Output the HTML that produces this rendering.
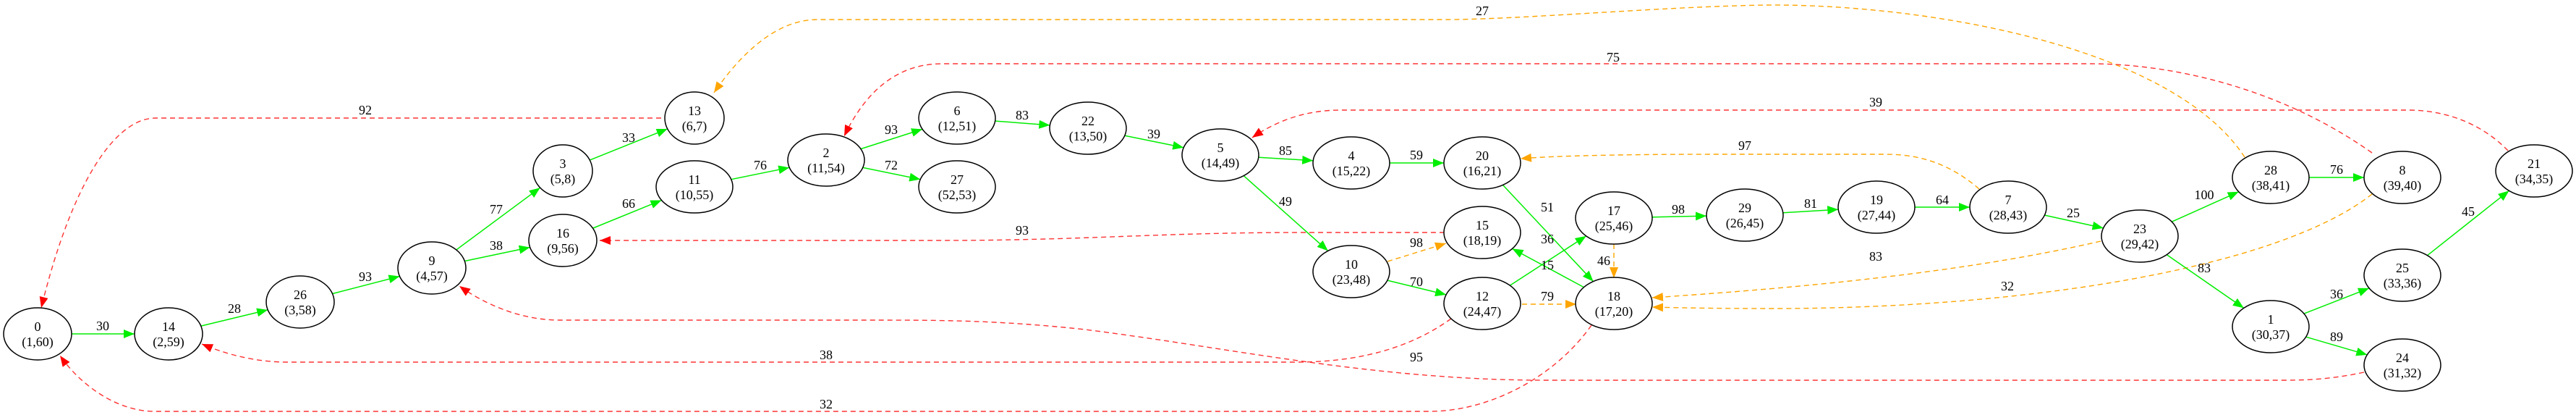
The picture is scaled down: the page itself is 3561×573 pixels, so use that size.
<!DOCTYPE html>
<html><head><meta charset="utf-8"><style>
html,body{margin:0;padding:0;background:#fff;}
svg{display:block;}
text{font-family:"Liberation Serif",serif;font-size:18px;fill:#000;}
</style></head><body>
<svg id="s" width="3561" height="573" viewBox="0 0 3561 573" xmlns="http://www.w3.org/2000/svg">
<defs>
<marker id="g" markerUnits="userSpaceOnUse" markerWidth="16" markerHeight="12" refX="15" refY="6" orient="auto"><path d="M0,0 L15,6 L0,12 z" fill="#00ee00"/></marker>
<marker id="r" markerUnits="userSpaceOnUse" markerWidth="16" markerHeight="12" refX="15" refY="6" orient="auto"><path d="M0,0 L15,6 L0,12 z" fill="#ff0000"/></marker>
<marker id="o" markerUnits="userSpaceOnUse" markerWidth="16" markerHeight="12" refX="15" refY="6" orient="auto"><path d="M0,0 L15,6 L0,12 z" fill="#ffa500"/></marker>
</defs>
<g fill="none" stroke-width="1.4" stroke-dasharray="7,5">
<path stroke="#ff3333" marker-end="url(#r)" d="M914,163 L215,163 C160,163 100,250 57,425"/>
<path stroke="#ffa500" marker-end="url(#o)" d="M3103,217 C3000,60 2650,5 2441,7 C2300,9 2100,27 2000,27 L1130,27 C1070,27 1020,80 987,128"/>
<path stroke="#ff3333" marker-end="url(#r)" d="M3279,211 C3150,120 3000,88 2889,88 L1302,88 C1230,88 1190,140 1167,188"/>
<path stroke="#ff3333" marker-end="url(#r)" d="M3467,208 C3430,170 3380,152 3329,152 L1853,152 C1800,152 1760,170 1731,190"/>
<path stroke="#ffa500" marker-end="url(#o)" d="M2736,261 C2700,230 2660,213 2606,213 L2374,213 C2250,213 2150,215 2102,219"/>
<path stroke="#ff3333" marker-end="url(#r)" d="M1997,321 L1800,321 C1600,321 1500,332 1300,332 L829,332"/>
<path stroke="#ffa500" marker-end="url(#o)" d="M1918,361 L1999,336"/>
<path stroke="#ffa500" marker-end="url(#o)" d="M2104,420 L2179,420"/>
<path stroke="#ffa500" marker-end="url(#o)" d="M2231,337 L2231,384"/>
<path stroke="#ffa500" marker-end="url(#o)" d="M2904,333 C2700,380 2450,400 2284,411"/>
<path stroke="#ffa500" marker-end="url(#o)" d="M3279,268 C3150,370 2800,426 2450,426 C2380,426 2320,425 2284,424"/>
<path stroke="#ff3333" marker-end="url(#r)" d="M2006,440 C1950,480 1880,500 1792,500 L398,500 C350,500 310,488 279,475"/>
<path stroke="#ff3333" marker-end="url(#r)" d="M2200,449 C2150,520 2060,568 1976,568 L214,568 C160,568 110,530 83,491"/>
<path stroke="#ff3333" marker-end="url(#r)" d="M3268,514 C3230,522 3200,525 3157,525 L2137,525 C1900,525 1700,480 1500,455 C1380,442 1300,442 1200,442 L773,442 C720,442 670,420 635,395"/>
</g>
<g id="ge" fill="none" stroke="#00ee00" stroke-width="1.5"></g>
<g id="nodes"></g>
<g id="el"></g>
</svg>
<script>
var N={
0:[52,461,"(1,60)"],14:[233,461,"(2,59)"],26:[415,417,"(3,58)"],9:[597,370,"(4,57)"],
3:[778,236,"(5,8)"],16:[778,332,"(9,56)"],13:[960,163,"(6,7)"],11:[960,258,"(10,55)"],
2:[1142,221,"(11,54)"],6:[1323,163,"(12,51)"],27:[1323,258,"(52,53)"],22:[1504,177,"(13,50)"],
5:[1687,214,"(14,49)"],4:[1868,225,"(15,22)"],20:[2049,225,"(16,21)"],15:[2049,321,"(18,19)"],
17:[2231,301,"(25,46)"],10:[1868,375,"(23,48)"],12:[2049,419,"(24,47)"],18:[2231,419,"(17,20)"],
29:[2412,297,"(26,45)"],19:[2594,286,"(27,44)"],7:[2776,286,"(28,43)"],23:[2958,326,"(29,42)"],
28:[3139,245,"(38,41)"],8:[3321,245,"(39,40)"],21:[3503,236,"(34,35)"],25:[3321,380,"(33,36)"],
1:[3139,451,"(30,37)"],24:[3321,504,"(31,32)"]};
function rx(k){var l=N[k][2].length;return l<=5?41:(l==6?47:53);}
var RY=36,ns="http://www.w3.org/2000/svg";
function el(t,a,p,txt){var e=document.createElementNS(ns,t);for(var k in a)e.setAttribute(k,a[k]);if(txt!==undefined)e.textContent=txt;p.appendChild(e);return e;}
var G=[[0,14,"30"],[14,26,"28"],[26,9,"93"],[9,3,"77"],[9,16,"38"],[3,13,"33"],[16,11,"66"],[11,2,"76"],
[2,6,"93"],[2,27,"72"],[6,22,"83"],[22,5,"39"],[5,4,"85"],[4,20,"59"],[5,10,"49"],[10,12,"70"],
[12,17,"15"],[18,15,"36"],[20,18,"51"],[17,29,"98"],[29,19,"81"],[19,7,"64"],[7,23,"25"],
[23,28,"100"],[28,8,"76"],[23,1,"83"],[1,25,"36"],[1,24,"89"],[25,21,"45"]];
function bpt(k,dx,dy){var a=rx(k),b=RY;var t=1/Math.sqrt(dx*dx/(a*a)+dy*dy/(b*b));return [N[k][0]+dx*t,N[k][1]+dy*t];}
var ge=document.getElementById("ge");
G.forEach(function(e){var s=N[e[0]],t=N[e[1]];var dx=t[0]-s[0],dy=t[1]-s[1];
var p1=bpt(e[0],dx,dy),p2=bpt(e[1],-dx,-dy);
el("path",{d:"M"+p1[0]+","+p1[1]+" L"+p2[0]+","+p2[1],"marker-end":"url(#g)"},ge);});
var L=[[142,450,"30"],[324,426,"28"],[505,382,"93"],[686,289,"77"],[686,339,"38"],[869,190,"33"],[869,281,"66"],[1051,228,"76"],
[1232,179,"93"],[1232,228,"72"],[1413,159,"83"],[1595,185,"39"],[1777,208,"85"],[1958,214,"59"],[1777,278,"49"],[1958,389,"70"],
[2139,366,"15"],[2139,330,"36"],[2139,286,"51"],[2320,289,"98"],[2503,281,"81"],[2685,276,"64"],[2866,294,"25"],
[3047,269,"100"],[3230,234,"76"],[3047,370,"83"],[3230,406,"36"],[3230,465,"89"],[3412,292,"45"],
[505,152,"92"],[2049,15,"27"],[2230,79,"75"],[2593,141,"39"],[2412,201,"97"],[1413,318,"93"],[1958,335,"98"],
[2139,409,"79"],[2217,360,"46"],[2593,354,"83"],[2775,395,"32"],[1142,490,"38"],[1142,558,"32"],[1958,493,"95"]];
var eg=document.getElementById("el");
L.forEach(function(l){el("text",{x:l[0],y:l[1]+6,"text-anchor":"middle"},eg,l[2]);});
var ng=document.getElementById("nodes");
for(var k in N){var n=N[k];
el("ellipse",{cx:n[0],cy:n[1],rx:rx(k),ry:RY,fill:"#fff",stroke:"#000","stroke-width":"1.5"},ng);
el("text",{x:n[0],y:n[1]-4,"text-anchor":"middle"},ng,k);
el("text",{x:n[0],y:n[1]+17,"text-anchor":"middle"},ng,n[2]);}
</script>
</body></html>
